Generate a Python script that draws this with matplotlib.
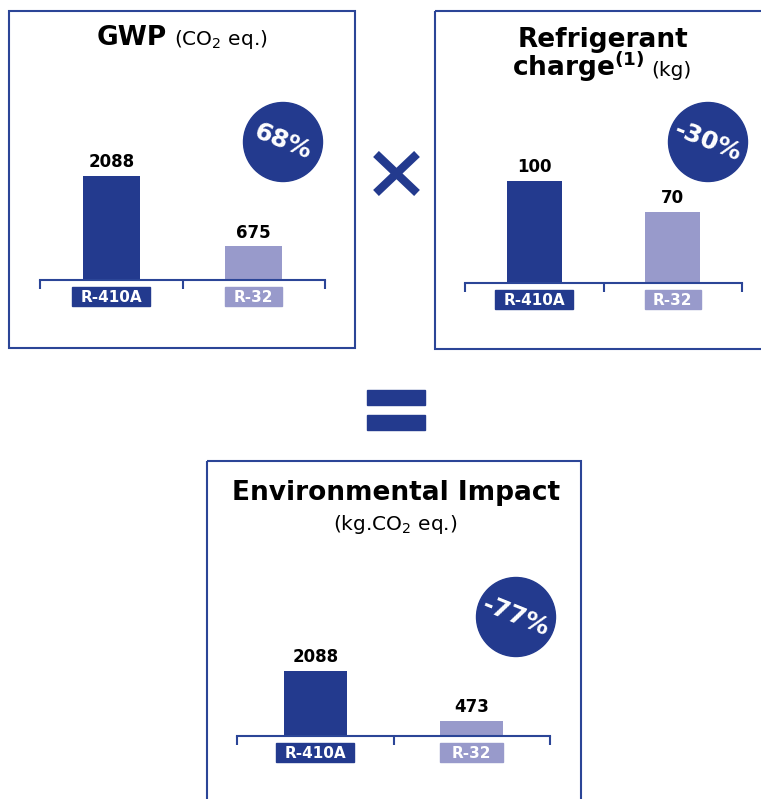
import matplotlib
matplotlib.use("Agg")
import matplotlib.pyplot as plt
from matplotlib.patches import Rectangle, Circle
from matplotlib.transforms import IdentityTransform

plt.rcParams['font.family'] = ['DejaVu Sans']
plt.rcParams['mathtext.fontset'] = 'dejavusans'

# --- Data ---
refrigerants = ["R-410A", "R-32"]
gwp = [2088, 675]
charge = [100, 70]
impact = [2088, 473]
badges = ["68%", "-30%", "-77%"]

# --- Style ---
DARK = "#233A8E"
LIGHT = "#989ACB"
LINE = "#2B4597"
BAR_COLORS = [DARK, LIGHT]

W, H = 761, 799
fig = plt.figure(figsize=(W / 100, H / 100), dpi=100)

# background axes in pixel coords (y down) for frames, symbols, titles
bg = fig.add_axes([0, 0, 1, 1])
bg.set_xlim(0, W)
bg.set_ylim(H, 0)
bg.axis("off")

# panel layout: frame (l, t, r, b), bar axis (x0, x1, baseline), px height of tallest bar, badge centre
panels = [
    dict(frame=(9, 11, 355, 348), axis=(40, 325, 280), bar_px=104, badge=(283, 142), values=gwp),
    dict(frame=(435, 11, 781, 349), axis=(465, 742, 283), bar_px=102, badge=(708, 142), values=charge),
    dict(frame=(207, 461, 581, 840), axis=(237, 550, 736), bar_px=65, badge=(516, 617), values=impact),
]

renderer = fig.canvas.get_renderer()

for p, badge in zip(panels, badges):
    l, t, r, b = p["frame"]
    bg.add_patch(Rectangle((l, t), r - l, b - t, fill=False, ec=LINE, lw=1.5))

    # percentage badge
    bx, by = p["badge"]
    bg.add_patch(Circle((bx, by), 39.5, color=DARK, zorder=3))
    bg.text(bx, by, badge, color="white", fontsize=18, fontweight="bold",
            rotation=-22, rotation_mode="anchor", ha="center", va="center", zorder=4)

    # bar chart
    x0, x1, base = p["axis"]
    values = p["values"]
    ax_h = 160
    ax = fig.add_axes([x0 / W, (H - base) / H, (x1 - x0) / W, ax_h / H])
    ax.set_xlim(-0.5, 1.5)
    ax.set_ylim(0, max(values) * ax_h / p["bar_px"])
    ax.patch.set_visible(False)
    for s in ["top", "left", "right"]:
        ax.spines[s].set_visible(False)
    ax.spines["bottom"].set_color(LINE)
    ax.spines["bottom"].set_linewidth(1.5)
    ax.set_xticks([-0.5, 0.5, 1.5])
    ax.set_xticklabels([])
    ax.set_yticks([])
    ax.tick_params(axis="x", length=6.5, width=1.5, color=LINE, direction="out")

    xs = list(range(len(values)))
    ax.bar(xs, values, width=0.4, color=BAR_COLORS, zorder=2)
    for i, v in enumerate(values):
        ax.annotate(f"{v}", (i, v), xytext=(0, 3.5), textcoords="offset points",
                    ha="center", va="bottom", fontsize=12, fontweight="bold")

    # category labels in coloured boxes
    bar_w_px = 0.4 * (x1 - x0) / 2
    for i, lab in enumerate(refrigerants):
        cx, base_y = ax.transData.transform((i, 0))
        cy = base_y - 16.5
        txt = fig.text(cx / W, (cy - 5.6) / H, lab, ha="center", va="baseline",
                       color="white", fontsize=11, fontweight="bold", zorder=3)
        tw = txt.get_window_extent(renderer).width
        bw = max(tw + 16, bar_w_px)
        fig.add_artist(Rectangle((cx - bw / 2, cy - 9.5), bw, 19,
                                 transform=IdentityTransform(), color=BAR_COLORS[i], zorder=1))

# --- Titles ---
bold = dict(fontsize=19, fontweight="bold")
small = dict(fontsize=14.5)


def title_line(parts, cx, baseline, gap=7):
    # lay out text pieces side by side on one baseline, centred on cx
    texts = [bg.text(0, baseline, s, ha="left", va="baseline", **props) for s, props in parts]
    widths = [tx.get_window_extent(renderer).width for tx in texts]
    x = cx - (sum(widths) + gap * (len(texts) - 1)) / 2
    for tx, w in zip(texts, widths):
        tx.set_x(x)
        x += w + gap


title_line([("GWP", bold), ("(CO$_2$ eq.)", small)], 182, 45)
title_line([("Refrigerant", bold)], 603, 47)
title_line([(r"charge$^{\mathbf{(1)}}$", bold), ("(kg)", small)], 602, 76)
title_line([("Environmental Impact", bold)], 396, 500)
title_line([("(kg.CO$_2$ eq.)", small)], 395, 530)

# --- Operators: multiply and equals ---
bg.plot([376, 417], [154, 193], color=DARK, lw=6, solid_capstyle="butt")
bg.plot([376, 417], [193, 154], color=DARK, lw=6, solid_capstyle="butt")
bg.add_patch(Rectangle((367, 390), 58, 15, color=DARK))
bg.add_patch(Rectangle((367, 415), 58, 15, color=DARK))

fig.savefig("out.png", dpi=100)
